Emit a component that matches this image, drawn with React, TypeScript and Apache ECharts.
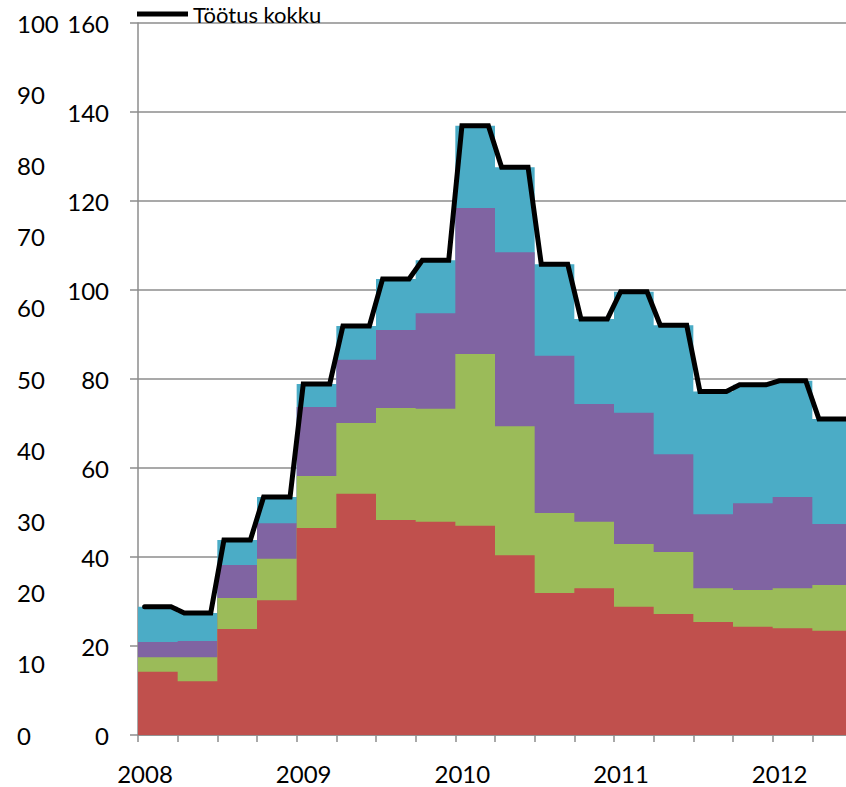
import React, { useEffect, useRef } from "react";
import * as echarts from "echarts";

// Quarterly data, 2008 Q1 – 2012 Q2 (thousands)
const years = ["2008", "2009", "2010", "2011", "2012"];
const quarters = [
  "2008 I", "2008 II", "2008 III", "2008 IV",
  "2009 I", "2009 II", "2009 III", "2009 IV",
  "2010 I", "2010 II", "2010 III", "2010 IV",
  "2011 I", "2011 II", "2011 III", "2011 IV",
  "2012 I", "2012 II",
];
const seriesRed = [14.2, 12.1, 23.8, 30.3, 46.5, 54.2, 48.3, 47.9, 47.0, 40.4, 31.9, 33.0, 28.8, 27.2, 25.4, 24.3, 24.0, 23.4];
const seriesGreen = [3.3, 5.4, 7.0, 9.3, 11.7, 15.9, 25.2, 25.4, 38.6, 29.0, 18.0, 14.9, 14.1, 13.9, 7.6, 8.3, 9.0, 10.3];
const seriesPurple = [3.4, 3.6, 7.4, 8.0, 15.5, 14.2, 17.5, 21.5, 32.8, 39.1, 35.3, 26.5, 29.5, 22.0, 16.6, 19.5, 20.5, 13.7];
const seriesBlue = [7.9, 6.3, 5.6, 5.9, 5.2, 7.6, 11.5, 11.9, 18.5, 19.1, 20.6, 19.1, 27.2, 29.0, 27.6, 26.6, 26.1, 23.6];
const names = ["alla 6 kuu", "6–11 kuud", "12–23 kuud", "24 kuud ja enam"];
const colors = ["#C0504D", "#9BBB59", "#8064A2", "#4BACC6"];
const totalName = "Töötus kokku";

const FONT = "Lato";

export default function App() {
  const ref = useRef<HTMLDivElement>(null);

  useEffect(() => {
    if (!ref.current) return;
    const chart = echarts.init(ref.current, undefined, { renderer: "svg" });

    const layers = [seriesRed, seriesGreen, seriesPurple, seriesBlue];
    const cum: number[][] = [];
    layers.forEach((arr, k) => {
      cum.push(arr.map((v, i) => (k === 0 ? v : cum[k - 1][i] + v)));
    });
    const total = cum[3];

    const stepData = (arr: number[]) => {
      const pts = arr.map((v, i) => [i, v]);
      pts.push([arr.length, arr[arr.length - 1]]);
      return pts;
    };

    const lineData: number[][] = [];
    total.forEach((v, i) => {
      for (let j = 0; j < 3; j++) lineData.push([i + (j + 0.5) / 3, v]);
    });

    const areaSeries = [3, 2, 1, 0].map((k) => ({
      name: names[k],
      type: "line",
      step: "end",
      data: stepData(cum[k]),
      showSymbol: false,
      symbol: "none",
      lineStyle: { width: 0 },
      areaStyle: { color: colors[k], opacity: 1 },
      itemStyle: { color: colors[k] },
      z: 2,
      silent: true,
    }));

    const axisGray = "#8c8c8c";

    const option: any = {
      animation: false,
      textStyle: { fontFamily: FONT },
      legend: {
        data: [totalName],
        left: 132,
        top: 3,
        padding: [0, 5],
        itemWidth: 51,
        itemHeight: 5,
        icon: "rect",
        textStyle: { fontSize: 22, lineHeight: 22, color: "#000", fontFamily: FONT },
      },
      grid: {
        left: 138,
        top: 23,
        width: 714,
        height: 712,
        containLabel: false,
        outerBoundsMode: "none",
      },
      xAxis: {
        type: "value",
        min: 0,
        max: quarters.length,
        interval: 1,
        axisLine: { lineStyle: { color: axisGray, width: 1.5 } },
        axisTick: { show: true, length: 7, lineStyle: { color: axisGray, width: 1.5 } },
        splitLine: { show: false },
        axisLabel: {
          fontSize: 24,
          color: "#000",
          fontFamily: FONT,
          margin: 26,
          padding: [0, 0, 0, 14],
          formatter: (v: number) =>
            v % 4 === 0 && v / 4 < years.length ? years[v / 4] : "",
        },
      },
      yAxis: [
        {
          type: "value",
          min: 0,
          max: 160,
          interval: 20,
          axisLine: { show: true, lineStyle: { color: axisGray, width: 1.5 } },
          axisTick: { show: true, length: 8, lineStyle: { color: axisGray, width: 1.5 } },
          splitLine: { show: true, lineStyle: { color: axisGray, width: 1.5 } },
          axisLabel: { fontSize: 24, color: "#000", fontFamily: FONT, margin: 29 },
        },
        {
          type: "value",
          min: 0,
          max: 100,
          interval: 10,
          position: "left",
          axisLine: { show: false },
          axisTick: { show: false },
          splitLine: { show: false },
          axisLabel: {
            fontSize: 24,
            color: "#000",
            fontFamily: FONT,
            align: "left",
            margin: 121,
          },
        },
      ],
      series: [
        ...areaSeries,
        {
          name: totalName,
          type: "line",
          data: lineData,
          showSymbol: false,
          symbol: "none",
          lineStyle: { color: "#000", width: 5, cap: "round", join: "miter" },
          itemStyle: { color: "#000" },
          z: 5,
        },
      ],
    };

    chart.setOption(option);
    return () => chart.dispose();
  }, []);

  return (
    <div
      ref={ref}
      style={{ position: "absolute", left: 0, top: 0, width: 846, height: 787, background: "#fff" }}
    />
  );
}
